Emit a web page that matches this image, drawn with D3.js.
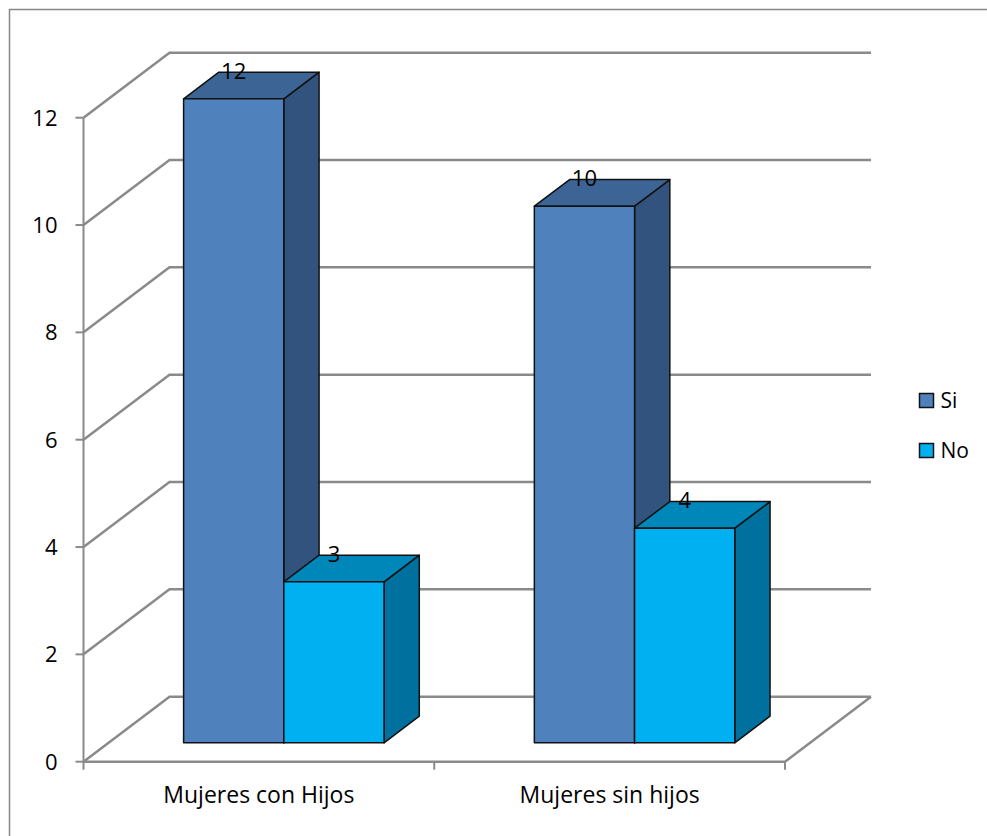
<!DOCTYPE html>
<html>
<head>
<meta charset="utf-8">
<script src="https://cdn.jsdelivr.net/npm/d3@7"></script>
<style>
  body { margin: 0; background: #fff; }
  text { font-family: "Open Sans", sans-serif; fill: #000; }
</style>
</head>
<body>
<div id="chart"></div>
<script>
// datos del grafico
const categories = ["Mujeres con Hijos", "Mujeres sin hijos"]
const series = ["Si", "No"]
const siValues = [12, 10]
const noValues = [3, 4]
const yTicks = [0, 2, 4, 6, 8, 10, 12]

const colors = {
  Si: { front: "#4f81bd", top: "#3c6596", side: "#33537f" },
  No: { front: "#00b0f0", top: "#0087ba", side: "#00709e" }
}

const width = 987, height = 836

// profundidad 3D (desplazamiento de la pared del fondo)
const DX = 86, DY = -65
const z0 = 0.29, z1 = 0.70

const svg = d3.select("#chart")
  .append("svg")
    .attr("width", width)
    .attr("height", height)

// borde exterior
svg.append("rect")
  .attr("x", 9.5).attr("y", 9.5)
  .attr("width", 1000).attr("height", 1000)
  .attr("fill", "none")
  .attr("stroke", "#878787")
  .attr("stroke-width", 1.5)

const y = d3.scaleLinear()
  .domain([0, 12])
  .range([761.7, 117.7])

const x0 = d3.scaleBand()
  .domain(categories)
  .range([83.5, 785])

const x1 = d3.scaleBand()
  .domain(series)
  .range([0, x0.bandwidth()])
  .paddingOuter(0.75)

const grid = svg.append("g")
  .attr("fill", "none")
  .attr("stroke", "#8a8a8a")
  .attr("stroke-width", 2.5)

const xl = x0.range()[0], xr = x0.range()[1]

// lineas de la pared del fondo + diagonales de la pared izquierda
yTicks.forEach(v => {
  grid.append("polyline")
    .attr("points", [[xl, y(v)], [xl + DX, y(v) + DY], [xr + DX, y(v) + DY]].map(p => p.join(",")).join(" "))
})

// piso
grid.append("polyline")
  .attr("points", [[xl, y(0)], [xr, y(0)], [xr + DX, y(0) + DY]].map(p => p.join(",")).join(" "))

// eje vertical
const axis = svg.append("g")
  .attr("stroke", "#8a8a8a")
  .attr("stroke-width", 2)
axis.append("line")
  .attr("x1", xl).attr("x2", xl)
  .attr("y1", y(0)).attr("y2", y(12))
yTicks.forEach(v => {
  axis.append("line")
    .attr("x1", xl - 8).attr("x2", xl)
    .attr("y1", y(v)).attr("y2", y(v))
})
const xTickPos = categories.map(c => x0(c)).concat([xr])
xTickPos.forEach(p => {
  axis.append("line")
    .attr("x1", p).attr("x2", p)
    .attr("y1", y(0)).attr("y2", y(0) + 8)
})

svg.append("g")
  .selectAll("text")
  .data(yTicks)
  .join("text")
    .attr("x", xl - 26)
    .attr("y", d => y(d) + 8)
    .attr("text-anchor", "end")
    .style("font-size", "22px")
    .text(d => d)

svg.append("g")
  .selectAll("text")
  .data(categories)
  .join("text")
    .attr("x", d => x0(d) + x0.bandwidth() / 2)
    .attr("y", 803)
    .attr("text-anchor", "middle")
    .style("font-size", "23px")
    .text(d => d)

// barras
const bars = []
categories.forEach((c, i) => {
  bars.push({ cat: c, key: "Si", value: siValues[i] })
  bars.push({ cat: c, key: "No", value: noValues[i] })
})

const pt = (px, py, z) => [px + z * DX, py + z * DY]
const poly = pts => pts.map(p => p.join(",")).join(" ")

const barG = svg.append("g")
  .attr("stroke", "#111")
  .attr("stroke-width", 1.5)
  .attr("stroke-linejoin", "round")

bars.forEach(d => {
  const left = x0(d.cat) + x1(d.key)
  const right = left + x1.bandwidth()
  const top = y(d.value), bottom = y(0)
  const col = colors[d.key]
  // cara lateral
  barG.append("polygon")
    .attr("points", poly([pt(right, top, z0), pt(right, top, z1), pt(right, bottom, z1), pt(right, bottom, z0)]))
    .attr("fill", col.side)
  // cara superior
  barG.append("polygon")
    .attr("points", poly([pt(left, top, z0), pt(left, top, z1), pt(right, top, z1), pt(right, top, z0)]))
    .attr("fill", col.top)
  // cara frontal
  const f0 = pt(left, top, z0), f1 = pt(right, bottom, z0)
  barG.append("rect")
    .attr("x", f0[0]).attr("y", f0[1])
    .attr("width", f1[0] - f0[0]).attr("height", f1[1] - f0[1])
    .attr("fill", col.front)
})

// etiquetas de datos
svg.append("g")
  .selectAll("text")
  .data(bars)
  .join("text")
    .attr("x", d => pt(x0(d.cat) + x1(d.key) + x1.bandwidth() / 2, y(d.value), z0)[0])
    .attr("y", d => pt(0, y(d.value), z0)[1] - 20)
    .attr("text-anchor", "middle")
    .style("font-size", "22px")
    .text(d => d.value)

// leyenda
const legend = svg.append("g")
  .selectAll("g")
  .data(series)
  .join("g")
    .attr("transform", (d, i) => `translate(919.5, ${393.5 + i * 50})`)
legend.append("rect")
  .attr("width", 14).attr("height", 14)
  .attr("fill", d => colors[d].front)
  .attr("stroke", "#111")
  .attr("stroke-width", 1.5)
legend.append("text")
  .attr("x", 21)
  .attr("y", 14)
  .style("font-size", "21px")
  .text(d => d)
</script>
</body>
</html>
